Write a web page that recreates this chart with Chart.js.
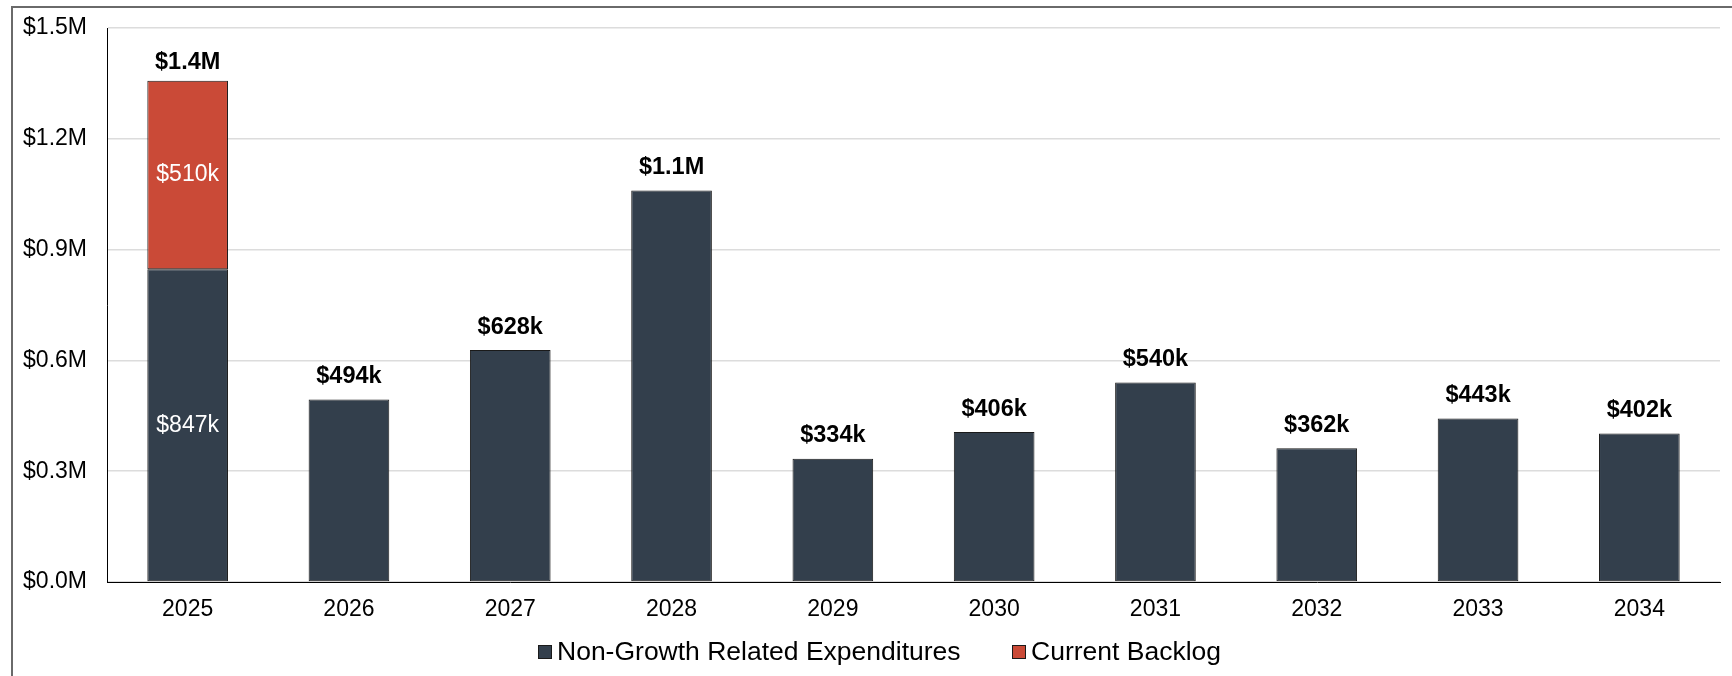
<!DOCTYPE html>
<html>
<head>
<meta charset="utf-8">
<script src="https://cdn.jsdelivr.net/npm/chart.js@4.4.1/dist/chart.umd.min.js"></script>
<style>
  html, body { margin: 0; padding: 0; background: #fff; }
  #wrap { position: relative; width: 1732px; height: 676px; overflow: hidden; }
  #frame { position: absolute; left: 11px; top: 6px; right: 0; bottom: 0;
           border-left: 2px solid #6a6a6a; border-top: 2px solid #6a6a6a; pointer-events: none; }
  canvas { position: absolute; left: 0; top: 0; }
</style>
</head>
<body>
<div id="wrap">
  <canvas id="c" width="1732" height="676"></canvas>
  <div id="frame"></div>
</div>
<script>
// ---- data ----
const categories = ['2025', '2026', '2027', '2028', '2029', '2030', '2031', '2032', '2033', '2034'];
const nonGrowth = [847000, 494000, 628000, 1060000, 334000, 406000, 540000, 362000, 443000, 402000];
const backlog = [510000, null, null, null, null, null, null, null, null, null];
const seriesNames = ['Non-Growth Related Expenditures', 'Current Backlog'];
const yTicks = [0, 300000, 600000, 900000, 1200000, 1500000];

const FONT = '"Liberation Sans", Arial, Helvetica, sans-serif';
const DARK = '#333f4c';
const RED = '#ca4a37';

function fmtValue(v) {
  if (v >= 1000000) return '$' + (v / 1000000).toFixed(1) + 'M';
  return '$' + Math.round(v / 1000) + 'k';
}

const labelsPlugin = {
  id: 'valueLabels',
  afterDatasetsDraw(chart) {
    const ctx = chart.ctx;
    const ds = chart.data.datasets;
    ctx.save();
    ctx.textAlign = 'center';
    ctx.textBaseline = 'middle';
    categories.forEach((cat, i) => {
      let total = 0, topEl = null, count = 0;
      ds.forEach((d, di) => {
        const v = d.data[i];
        if (v != null && v > 0) {
          total += v; count++;
          topEl = chart.getDatasetMeta(di).data[i];
        }
      });
      if (!topEl) return;
      if (count > 1) {
        ctx.font = '23px ' + FONT;
        ctx.fillStyle = '#ffffff';
        ds.forEach((d, di) => {
          const v = d.data[i];
          if (v == null || v <= 0) return;
          const el = chart.getDatasetMeta(di).data[i];
          ctx.fillText(fmtValue(v), el.x, (el.y + el.base) / 2);
        });
      }
      ctx.font = 'bold 23.5px ' + FONT;
      ctx.fillStyle = '#000000';
      const y = Math.max(topEl.y - 23, chart.chartArea.top + 35);
      ctx.fillText(fmtValue(total), topEl.x, y);
    });
    ctx.restore();
  }
};

const legendPlugin = {
  id: 'customLegend',
  afterDraw(chart) {
    const ctx = chart.ctx;
    ctx.save();
    ctx.font = '26.5px ' + FONT;
    ctx.textBaseline = 'middle';
    ctx.textAlign = 'left';
    const box = 14, gapBox = 5, gapItem = 51;
    const items = chart.data.datasets.map(d => ({ text: d.label, color: d.backgroundColor }));
    let total = 0;
    items.forEach((it, k) => {
      it.w = ctx.measureText(it.text).width;
      total += box + gapBox + it.w + (k < items.length - 1 ? gapItem : 0);
    });
    const cy = 651.5;
    let x = Math.round(879.5 - total / 2);
    items.forEach(it => {
      ctx.fillStyle = it.color;
      ctx.fillRect(x, Math.round(cy - box / 2), box, box);
      ctx.strokeStyle = '#1a1a1a';
      ctx.lineWidth = 1;
      ctx.strokeRect(x + 0.5, Math.round(cy - box / 2) + 0.5, box - 1, box - 1);
      x += box + gapBox;
      ctx.fillStyle = '#000';
      ctx.fillText(it.text, x, cy + 1);
      x = Math.round(x + it.w + gapItem);
    });
    ctx.restore();
  }
};

new Chart(document.getElementById('c'), {
  type: 'bar',
  data: {
    labels: categories,
    datasets: [
      { label: seriesNames[0], data: nonGrowth, backgroundColor: DARK, borderColor: '#1a1a1a', borderWidth: 1, borderSkipped: false },
      { label: seriesNames[1], data: backlog, backgroundColor: RED, borderColor: '#1a1a1a', borderWidth: 1, borderSkipped: false }
    ]
  },
  options: {
    responsive: false,
    animation: false,
    devicePixelRatio: 1,
    layout: { padding: { left: 23, right: 12, top: 28, bottom: 54 } },
    datasets: { bar: { categoryPercentage: 1.0, barPercentage: 0.5 } },
    plugins: { legend: { display: false }, tooltip: { enabled: false } },
    scales: {
      x: {
        stacked: true,
        grid: { display: false, drawTicks: false },
        border: { display: true, color: '#000', width: 1 },
        ticks: { color: '#000', font: { family: FONT, size: 23 }, padding: 14 },
        afterFit(s) { s.height = 40; s.paddingLeft = 0; s.paddingRight = 0; }
      },
      y: {
        stacked: true,
        min: 0, max: 1500000,
        afterBuildTicks(s) { s.ticks = yTicks.map(v => ({ value: v })); },
        grid: { color: '#dcdcdc', lineWidth: 1.5, drawTicks: false },
        border: { display: true, color: '#000', width: 1 },
        ticks: {
          color: '#000', font: { family: FONT, size: 23 }, padding: 20,
          callback: v => '$' + (v / 1000000).toFixed(1) + 'M'
        },
        afterFit(s) { s.width = 84; s.paddingTop = 0; s.paddingBottom = 0; }
      }
    }
  },
  plugins: [labelsPlugin, legendPlugin]
});
</script>
</body>
</html>
